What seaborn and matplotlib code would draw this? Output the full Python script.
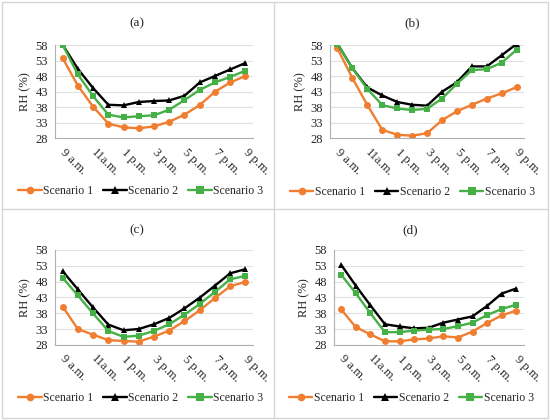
import numpy as np
import pandas as pd
import matplotlib
matplotlib.use("Agg")
import matplotlib.pyplot as plt
import seaborn as sns
from matplotlib.lines import Line2D
from matplotlib.patches import Rectangle

# hours 9 a.m. .. 9 p.m.
hours = list(range(13))
tick_labels = ["9 a.m.", "11a.m.", "1 p.m.", "3 p.m.", "5 p.m.", "7 p.m.", "9 p.m."]
scenarios = ["Scenario 1", "Scenario 2", "Scenario 3"]

# panel (a)
a_s1 = [53.9, 45.0, 38.2, 32.7, 31.5, 31.2, 31.8, 33.3, 35.6, 38.7, 43.0, 46.0, 48.1]
a_s2 = [58.2, 50.4, 44.2, 38.8, 38.6, 39.7, 40.0, 40.2, 41.7, 46.0, 48.1, 50.2, 52.3]
a_s3 = [58.2, 48.6, 41.6, 35.6, 34.7, 35.1, 35.4, 37.2, 40.3, 43.6, 46.0, 47.8, 49.8]
# panel (b)
b_s1 = [57.0, 47.4, 38.7, 30.7, 29.1, 28.8, 29.6, 33.8, 36.7, 38.8, 40.8, 42.5, 44.5]
b_s2 = [58.5, 50.6, 44.4, 41.8, 39.7, 38.8, 38.5, 43.0, 46.1, 51.2, 51.2, 54.8, 58.5]
b_s3 = [58.5, 50.6, 43.9, 38.7, 37.6, 37.1, 37.5, 40.8, 45.6, 50.0, 50.3, 52.4, 56.6]
# panel (c)
c_s1 = [40.1, 33.0, 31.2, 29.5, 29.2, 29.0, 30.6, 32.5, 35.5, 38.9, 42.8, 46.5, 47.9]
c_s2 = [51.3, 45.5, 39.8, 34.4, 32.6, 33.0, 34.5, 36.5, 39.5, 42.9, 46.7, 50.6, 51.9]
c_s3 = [49.2, 43.6, 37.9, 32.4, 30.5, 30.9, 32.4, 34.5, 37.5, 40.9, 44.7, 48.7, 49.8]
# panel (d)
d_s1 = [39.2, 33.6, 31.3, 29.1, 29.1, 29.7, 30.0, 30.7, 30.3, 32.2, 34.9, 37.3, 38.8]
d_s2 = [53.3, 46.7, 40.5, 34.5, 33.8, 33.2, 33.4, 35.0, 36.0, 37.0, 40.3, 44.2, 45.8]
d_s3 = [50.2, 44.3, 38.0, 32.0, 32.0, 32.5, 32.8, 33.0, 33.9, 35.0, 37.4, 39.3, 40.7]

panels = [
    ("(a)", [a_s1, a_s2, a_s3]),
    ("(b)", [b_s1, b_s2, b_s3]),
    ("(c)", [c_s1, c_s2, c_s3]),
    ("(d)", [d_s1, d_s2, d_s3]),
]

sns.set_style("white")
plt.rcParams['font.family'] = ['Liberation Serif', 'DejaVu Serif']
plt.rcParams['font.size'] = 9

colors = {"Scenario 1": "#F07D30", "Scenario 2": "#000000", "Scenario 3": "#45B045"}
markers = {"Scenario 1": "o", "Scenario 2": "^", "Scenario 3": "s"}

fig = plt.figure(figsize=(5.5, 4.2), dpi=100)

# axes rectangles in figure fractions
rects = [
    [0.100, 0.671, 0.360, 0.221],
    [0.600, 0.671, 0.353, 0.221],
    [0.100, 0.179, 0.360, 0.226],
    [0.607, 0.179, 0.345, 0.226],
]
title_pos = [(0.249, 0.945), (0.749, 0.945), (0.249, 0.452), (0.746, 0.452)]
legend_pos = [(0.256, 0.545), (0.750, 0.543), (0.256, 0.052), (0.748, 0.052)]

for (name, series), rect, tpos, lpos in zip(panels, rects, title_pos, legend_pos):
    ax = fig.add_axes(rect)
    df = pd.DataFrame({
        "hour": hours * 3,
        "RH": series[0] + series[1] + series[2],
        "Scenario": [s for s in scenarios for _ in hours],
    })
    sns.lineplot(data=df, x="hour", y="RH", hue="Scenario", style="Scenario",
                 palette=colors, markers=markers, dashes=False, linewidth=1.7,
                 markersize=5, markeredgewidth=0, ax=ax)
    ax.set_xlim(-0.5, 12.5)
    ax.set_ylim(28, 58)
    ax.set_yticks(np.arange(28, 59, 5))
    ax.set_xticks(range(0, 13, 2))
    ax.set_xticklabels(tick_labels, rotation=-45, ha='left', va='center',
                       rotation_mode='anchor')
    ax.set_xticks(np.arange(-0.5, 13, 1), minor=True)
    ax.tick_params(axis='x', which='major', length=0, pad=9)
    ax.tick_params(axis='x', which='minor', length=3, color='#b0b0b0', direction='out')
    ax.tick_params(axis='y', length=3, color='#b0b0b0', direction='out', pad=2)
    ax.grid(axis='y', color='#e0e0e0', linewidth=0.8)
    for side in ['top', 'right']:
        ax.spines[side].set_visible(False)
    for side in ['left', 'bottom']:
        ax.spines[side].set_color('#b0b0b0')
        ax.spines[side].set_linewidth(0.8)
    ax.set_xlabel("")
    ax.set_ylabel("RH (%)", labelpad=3)
    ax.get_legend().remove()
    fig.text(tpos[0], tpos[1], name, ha='center', va='center', fontsize=9.5)
    handles = [Line2D([], [], color=colors[s], marker=markers[s], linewidth=1.7,
                      markersize=5.5, markeredgewidth=0) for s in scenarios]
    fig.legend(handles, scenarios, loc='center', bbox_to_anchor=lpos, ncol=3,
               frameon=False, handlelength=2.0, handletextpad=0.15,
               columnspacing=0.8, fontsize=8.5, borderpad=0)

# panel borders
fig.add_artist(Rectangle((0.003, 0.004), 0.994, 0.992, transform=fig.transFigure,
                         fill=False, edgecolor='#d6d6d6', linewidth=1))
fig.add_artist(Line2D([274 / 550, 274 / 550], [0.004, 0.996], transform=fig.transFigure,
                      color='#d6d6d6', linewidth=1))
fig.add_artist(Line2D([0.003, 0.997], [1 - 209 / 420, 1 - 209 / 420], transform=fig.transFigure,
                      color='#d6d6d6', linewidth=1))

fig.savefig("out.png", dpi=100)
